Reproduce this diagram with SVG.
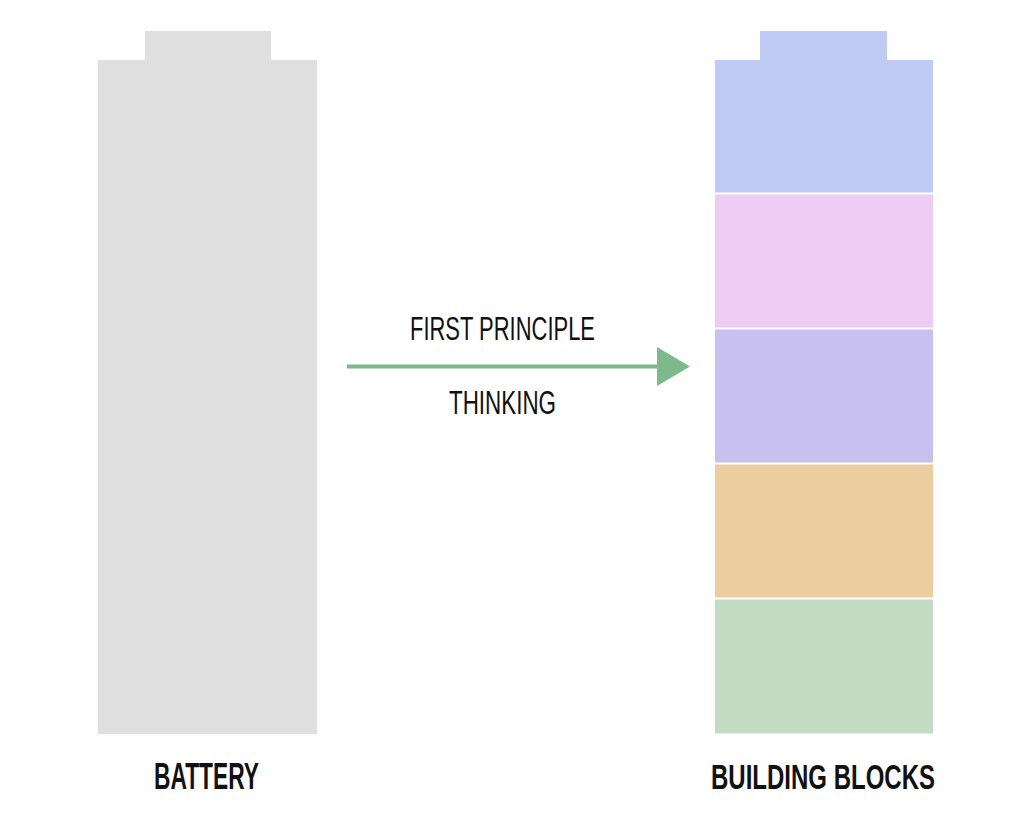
<svg xmlns="http://www.w3.org/2000/svg" width="1024" height="816" viewBox="0 0 1024 816">
  <style>
    .lbl { font-family: "Liberation Sans", "DejaVu Sans", sans-serif; fill: #111; text-anchor: middle; }
    .thin { font-size: 33px; font-weight: normal; }
    .bold { font-size: 36px; font-weight: bold; }
  </style>
  <defs>
    <marker id="arrowHead" markerWidth="33" markerHeight="39" refX="0" refY="19.5" orient="auto" markerUnits="userSpaceOnUse">
      <polygon points="0,0 33,19.5 0,39" fill="#7DB98A"/>
    </marker>
  </defs>
  <rect width="1024" height="816" fill="#ffffff"/>

  <g id="battery">
    <rect x="145" y="31" width="126" height="30" fill="#E0E0E0"/>
    <rect x="98" y="60" width="219" height="674" fill="#E0E0E0"/>
    <text class="lbl bold" x="0" y="0" transform="translate(206.5,789) scale(0.62,1)" textLength="169.4" lengthAdjust="spacingAndGlyphs">BATTERY</text>
  </g>

  <g id="building-blocks">
    <rect x="760" y="31" width="127" height="30" fill="#C0CBF5"/>
    <rect x="715" y="60" width="218" height="132.5" fill="#C0CBF5"/>
    <rect x="715" y="194.5" width="218" height="133" fill="#EFCCF4"/>
    <rect x="715" y="329.5" width="218" height="133" fill="#C8C0EE"/>
    <rect x="715" y="464.5" width="218" height="133" fill="#ECCDA0"/>
    <rect x="715" y="599.5" width="218" height="134" fill="#C2DCC4"/>
    <text class="lbl bold" x="0" y="0" transform="translate(823,789) scale(0.67,1)" textLength="334.3" lengthAdjust="spacingAndGlyphs">BUILDING BLOCKS</text>
  </g>

  <g id="connectors">
    <line x1="347" y1="366.5" x2="657" y2="366.5" stroke="#7DB98A" stroke-width="4" marker-end="url(#arrowHead)"/>
    <text class="lbl thin" x="0" y="0" transform="translate(502.5,340) scale(0.665,1)" textLength="278.2" lengthAdjust="spacingAndGlyphs">FIRST PRINCIPLE</text>
    <text class="lbl thin" x="0" y="0" transform="translate(502.5,414) scale(0.68,1)" textLength="157.4" lengthAdjust="spacingAndGlyphs">THINKING</text>
  </g>
</svg>
